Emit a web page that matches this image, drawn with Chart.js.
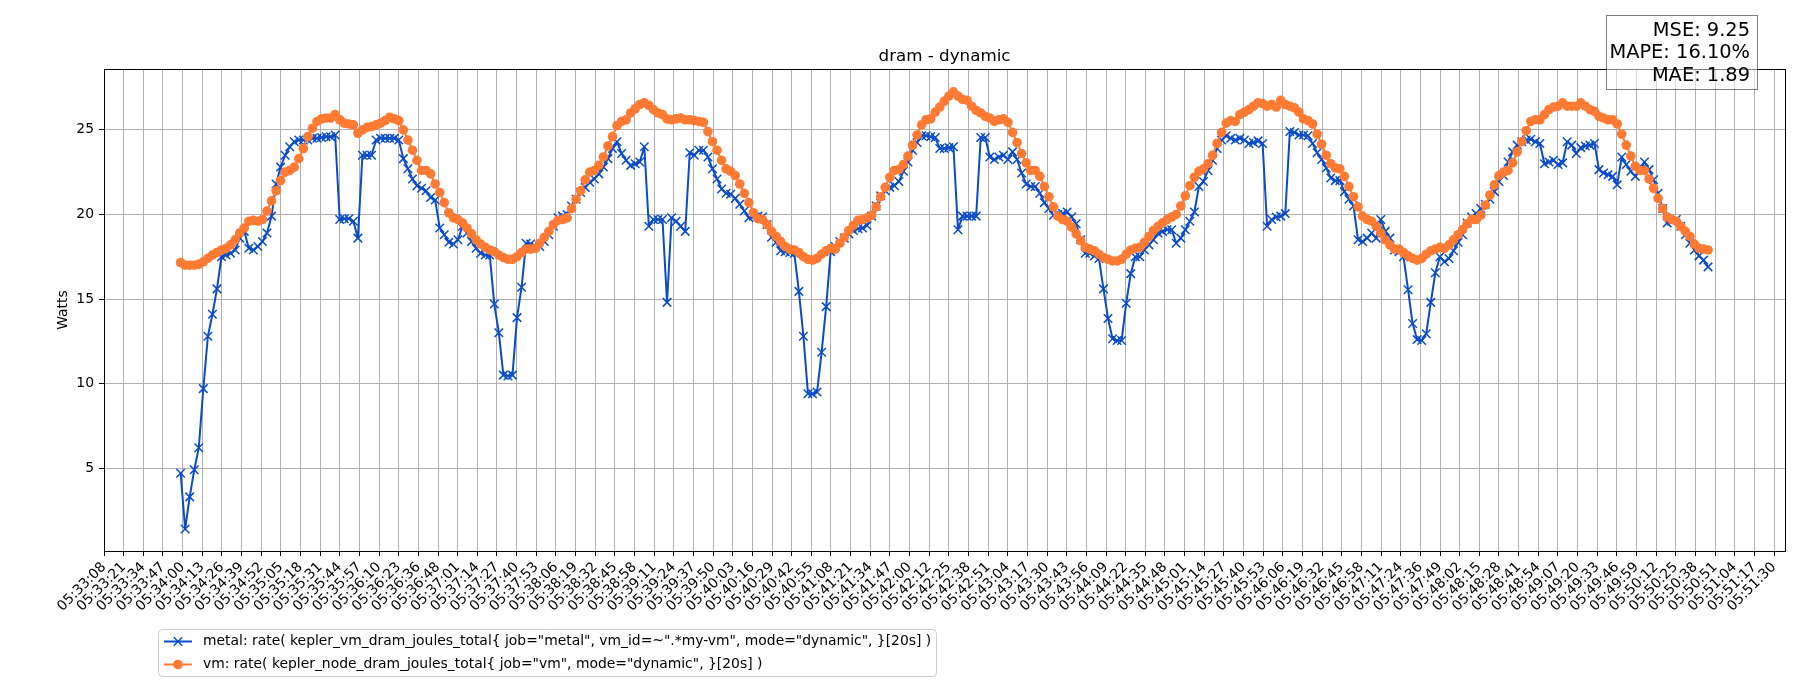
<!DOCTYPE html>
<html>
<head>
<meta charset="utf-8">
<script src="https://cdn.jsdelivr.net/npm/chart.js@4.4.1/dist/chart.umd.min.js"></script>
<style>
  html, body { margin: 0; padding: 0; background: #fff; }
  canvas { display: block; }
</style>
</head>
<body>
<canvas id="chart" width="1800" height="700"></canvas>
<script>
const chartTitle = 'dram - dynamic';
const yAxisLabel = 'Watts';
const seriesNames = [
    'metal: rate( kepler_vm_dram_joules_total{ job="metal", vm_id=~".*my-vm", mode="dynamic", }[20s] )',
    'vm: rate( kepler_node_dram_joules_total{ job="vm", mode="dynamic", }[20s] )'
];
const metricLines = ['MSE: 9.25', 'MAPE: 16.10%', 'MAE: 1.89'];

// samples every 3 s starting at 05:33:59
const sampleStart = '05:33:59';
const sampleStep = 3;

const metalValues = [
    4.7, 1.4, 3.3, 4.9, 6.2, 9.7, 12.8, 14.1, 15.6, 17.5,
    17.6, 17.7, 17.9, 18.6, 19.0, 18.0, 17.9, 18.1, 18.4, 18.9,
    19.9, 21.8, 22.8, 23.5, 24.0, 24.3, 24.4, 24.4, 24.4, 24.5,
    24.5, 24.55, 24.6, 24.6, 24.7, 19.7, 19.75, 19.75, 19.6, 18.6,
    23.5, 23.5, 23.5, 24.4, 24.5, 24.5, 24.5, 24.5, 24.4, 23.3,
    22.7, 22.1, 21.7, 21.55, 21.4, 21.0, 20.85, 19.2, 18.8, 18.35,
    18.25, 18.5, 19.3, 18.9, 18.4, 18.0, 17.7, 17.6, 17.6, 14.7,
    13.0, 10.5, 10.45, 10.5, 13.9, 15.7, 18.3, 18.25, 18.1, 18.1,
    18.4, 18.8, 19.3, 19.8, 19.9, 20.0, 20.5, 20.9, 21.3, 21.6,
    21.9, 22.1, 22.4, 22.8, 23.3, 23.9, 24.3, 23.6, 23.2, 22.9,
    23.0, 23.1, 24.0, 19.3, 19.7, 19.7, 19.7, 14.8, 19.8, 19.6,
    19.3, 19.0, 23.65, 23.5, 23.8, 23.8, 23.4, 22.7, 22.1, 21.5,
    21.25, 21.2, 20.95, 20.6, 20.2, 19.8, 19.9, 19.9, 19.85, 19.4,
    18.65, 18.35, 17.85, 17.8, 17.75, 17.7, 15.45, 12.8, 9.4, 9.4,
    9.5, 11.85, 14.55, 17.8, 18.1, 18.4, 18.6, 18.85, 19.05, 19.15,
    19.2, 19.35, 19.9, 20.5, 21.1, 21.4, 21.6, 21.7, 21.95, 22.55,
    23.1, 23.8, 24.25, 24.65, 24.65, 24.6, 24.55, 23.9, 23.9, 23.95,
    24.0, 19.1, 19.9, 19.9, 19.9, 19.9, 24.55, 24.55, 23.4, 23.25,
    23.4, 23.5, 23.25, 23.7, 23.25, 22.45, 21.8, 21.65, 21.65, 21.25,
    20.7, 20.35, 19.95, 20.0, 20.05, 20.15, 19.85, 19.45, 18.5, 17.7,
    17.7, 17.55, 17.4, 15.6, 13.85, 12.65, 12.55, 12.55, 14.75, 16.5,
    17.5, 17.5, 17.9, 18.2, 18.5, 18.9, 19.0, 19.1, 19.1, 18.3,
    18.6, 19.1, 19.6, 20.15, 21.65, 21.95, 22.6, 23.2, 23.9, 24.4,
    24.65, 24.5, 24.4, 24.5, 24.4, 24.2, 24.25, 24.35, 24.2, 19.3,
    19.7, 19.85, 19.9, 20.05, 24.9, 24.85, 24.7, 24.7, 24.65, 24.2,
    23.65, 23.25, 22.75, 22.15, 22.0, 22.0, 21.35, 20.9, 20.5, 18.5,
    18.4, 18.6, 18.9, 18.6, 19.7, 19.0, 18.6, 17.9, 17.8, 17.5,
    15.55, 13.55, 12.6, 12.55, 12.95, 14.8, 16.55, 17.5, 17.2, 17.4,
    17.85, 18.35, 18.8, 19.5, 19.85, 20.05, 20.35, 20.6, 20.9, 21.35,
    21.95, 22.3, 23.1, 23.7, 24.1, 24.3, 24.4, 24.45, 24.3, 24.2,
    23.0, 23.1, 23.2, 22.95, 23.05, 24.3, 24.1, 23.6, 23.95, 24.05,
    24.1, 24.2, 22.65, 22.45, 22.35, 22.25, 21.75, 23.4, 22.95, 22.55,
    22.25, 22.65, 23.1, 22.65, 22.05, 21.25, 20.35, 19.5, 19.6, 19.7,
    19.3, 18.8, 18.3, 17.9, 17.55, 17.3, 16.9
];

const vmValues = [
    17.15, 17.0, 17.0, 17.0, 17.05, 17.2, 17.4, 17.6, 17.75, 17.9,
    18.0, 18.2, 18.5, 18.9, 19.2, 19.6, 19.65, 19.6, 19.7, 20.2,
    20.8, 21.4, 22.0, 22.5, 22.6, 22.8, 23.3, 23.9, 24.6, 25.1,
    25.5, 25.65, 25.7, 25.7, 25.9, 25.6, 25.4, 25.35, 25.3, 24.8,
    25.0, 25.15, 25.2, 25.3, 25.4, 25.55, 25.75, 25.65, 25.55, 25.0,
    24.4, 23.8, 23.2, 22.6, 22.6, 22.4, 21.8, 21.3, 20.7, 20.1,
    19.8, 19.7, 19.5, 19.2, 18.85, 18.5, 18.25, 18.05, 17.9, 17.8,
    17.6, 17.45, 17.35, 17.35, 17.5, 17.75, 17.95, 17.95, 18.0, 18.3,
    18.65, 19.0, 19.4, 19.65, 19.7, 19.8, 20.35, 20.9, 21.4, 22.05,
    22.5, 22.6, 22.9, 23.4, 24.05, 24.6, 25.25, 25.5, 25.6, 26.0,
    26.25, 26.5, 26.6, 26.45, 26.2, 26.0, 25.9, 25.65, 25.6, 25.65,
    25.7, 25.6, 25.6, 25.55, 25.5, 25.45, 24.9, 24.3, 23.8, 23.2,
    22.7, 22.55, 22.3, 21.8, 21.25, 20.7, 20.1, 19.75, 19.7, 19.4,
    19.0, 18.7, 18.4, 18.1, 17.95, 17.9, 17.75, 17.5, 17.35, 17.3,
    17.4, 17.65, 17.85, 18.0, 17.95, 18.3, 18.65, 19.05, 19.35, 19.65,
    19.7, 19.8, 19.95, 20.45, 21.05, 21.6, 22.2, 22.6, 22.65, 22.95,
    23.45, 24.1, 24.7, 25.3, 25.6, 25.65, 26.05, 26.35, 26.7, 27.0,
    27.25, 27.0, 26.8, 26.75, 26.4, 26.15, 26.0, 25.8, 25.7, 25.5,
    25.6, 25.65, 25.45, 24.85, 24.25, 23.6, 23.05, 22.6, 22.6, 22.25,
    21.65, 21.05, 20.45, 19.9, 19.7, 19.6, 19.25, 18.85, 18.45, 18.05,
    17.95, 17.85, 17.65, 17.45, 17.35, 17.25, 17.25, 17.35, 17.65, 17.9,
    18.0, 18.05, 18.35, 18.7, 19.05, 19.3, 19.5, 19.7, 19.85, 20.0,
    20.5, 21.1, 21.7, 22.2, 22.55, 22.7, 23.0, 23.5, 24.2, 24.85,
    25.4, 25.55, 25.5, 25.9, 26.05, 26.2, 26.4, 26.6, 26.55, 26.4,
    26.5, 26.35, 26.75, 26.5, 26.4, 26.3, 26.05, 25.65, 25.55, 25.35,
    24.75, 24.15, 23.5, 23.0, 22.75, 22.7, 22.25, 21.65, 21.05, 20.45,
    19.9, 19.7, 19.6, 19.3, 18.9, 18.5, 18.2, 17.95, 17.95, 17.75,
    17.55, 17.4, 17.3, 17.4, 17.65, 17.85, 17.95, 18.05, 18.0, 18.2,
    18.5, 18.8, 19.1, 19.45, 19.7, 19.7, 19.95, 20.55, 21.15, 21.75,
    22.3, 22.5, 22.6, 23.05, 23.7, 24.3, 24.95, 25.5, 25.6, 25.6,
    25.9, 26.2, 26.35, 26.4, 26.6, 26.4, 26.4, 26.4, 26.6, 26.4,
    26.2, 26.1, 25.8, 25.7, 25.6, 25.6, 25.35, 24.75, 24.1, 23.45,
    22.85, 22.6, 22.6, 22.1, 21.55, 20.95, 20.35, 19.85, 19.7, 19.6,
    19.3, 19.0, 18.7, 18.25, 18.0, 17.95, 17.9
];

const xTickLabels = [
    '05:33:08', '05:33:21', '05:33:34', '05:33:47', '05:34:00', '05:34:13', '05:34:26', '05:34:39',
    '05:34:52', '05:35:05', '05:35:18', '05:35:31', '05:35:44', '05:35:57', '05:36:10', '05:36:23',
    '05:36:36', '05:36:48', '05:37:01', '05:37:14', '05:37:27', '05:37:40', '05:37:53', '05:38:06',
    '05:38:19', '05:38:32', '05:38:45', '05:38:58', '05:39:11', '05:39:24', '05:39:37', '05:39:50',
    '05:40:03', '05:40:16', '05:40:29', '05:40:42', '05:40:55', '05:41:08', '05:41:21', '05:41:34',
    '05:41:47', '05:42:00', '05:42:12', '05:42:25', '05:42:38', '05:42:51', '05:43:04', '05:43:17',
    '05:43:30', '05:43:43', '05:43:56', '05:44:09', '05:44:22', '05:44:35', '05:44:48', '05:45:01',
    '05:45:14', '05:45:27', '05:45:40', '05:45:53', '05:46:06', '05:46:19', '05:46:32', '05:46:45',
    '05:46:58', '05:47:11', '05:47:24', '05:47:36', '05:47:49', '05:48:02', '05:48:15', '05:48:28',
    '05:48:41', '05:48:54', '05:49:07', '05:49:20', '05:49:33', '05:49:46', '05:49:59', '05:50:12',
    '05:50:25', '05:50:38', '05:50:51', '05:51:04', '05:51:17', '05:51:30'
];
const yTicks = [5, 10, 15, 20, 25];

const blue = '#0a4cc8';
const orange = '#ff7a33';

function toSec(s) {
    const p = s.split(':').map(Number);
    return p[0] * 3600 + p[1] * 60 + p[2];
}

// tick labels are truncated seconds; the real ticks are evenly spaced
const firstTick = toSec(xTickLabels[0]) + 0.45;
const lastTick = toSec(xTickLabels[xTickLabels.length - 1]) + 0.5;
const tickStep = (lastTick - firstTick) / (xTickLabels.length - 1);
const xTickValues = xTickLabels.map((_, i) => firstTick + i * tickStep);
const xMin = firstTick;
const xMax = lastTick + 7.25;

const t0 = toSec(sampleStart);
const metalPoints = metalValues.map((v, i) => ({ x: t0 + i * sampleStep, y: v }));
const vmPoints = vmValues.map((v, i) => ({ x: t0 + i * sampleStep, y: v }));

Chart.defaults.font.family = "'DejaVu Sans', sans-serif";
Chart.defaults.color = '#000';

const decorations = {
    id: 'decorations',
    afterDraw(chart) {
        const ctx = chart.ctx;
        const a = chart.chartArea;
        ctx.save();

        // axes frame
        ctx.strokeStyle = '#000';
        ctx.lineWidth = 1;
        ctx.strokeRect(Math.round(a.left) + 0.5, Math.round(a.top) + 0.5,
            Math.round(a.right - a.left), Math.round(a.bottom - a.top));

        // title
        ctx.fillStyle = '#000';
        ctx.font = "16.7px 'DejaVu Sans'";
        ctx.textAlign = 'center';
        ctx.textBaseline = 'alphabetic';
        ctx.fillText(chartTitle, (a.left + a.right) / 2, 60.5);

        // y axis label
        ctx.save();
        ctx.translate(63, (a.top + a.bottom) / 2);
        ctx.rotate(-Math.PI / 2);
        ctx.font = "13.9px 'DejaVu Sans'";
        ctx.textBaseline = 'middle';
        ctx.fillText(yAxisLabel, 0, 0);
        ctx.restore();

        // legend below the axis
        const lx = 158.5, ly = 629.5, lw = 778, lh = 47;
        ctx.beginPath();
        ctx.roundRect(lx, ly, lw, lh, 4);
        ctx.fillStyle = 'rgba(255,255,255,0.8)';
        ctx.fill();
        ctx.strokeStyle = '#cccccc';
        ctx.lineWidth = 1;
        ctx.stroke();
        ctx.font = "13.9px 'DejaVu Sans'";
        ctx.textAlign = 'left';
        ctx.textBaseline = 'middle';
        const rows = [641.5, 664.5];
        const hx0 = 164, hx1 = 192, hm = 178;
        // metal entry
        ctx.strokeStyle = blue;
        ctx.lineWidth = 2;
        ctx.beginPath();
        ctx.moveTo(hx0, rows[0]);
        ctx.lineTo(hx1, rows[0]);
        ctx.stroke();
        ctx.lineWidth = 1.5;
        ctx.beginPath();
        ctx.moveTo(hm - 4.2, rows[0] - 4.2); ctx.lineTo(hm + 4.2, rows[0] + 4.2);
        ctx.moveTo(hm - 4.2, rows[0] + 4.2); ctx.lineTo(hm + 4.2, rows[0] - 4.2);
        ctx.stroke();
        // vm entry
        ctx.strokeStyle = orange;
        ctx.lineWidth = 2;
        ctx.beginPath();
        ctx.moveTo(hx0, rows[1]);
        ctx.lineTo(hx1, rows[1]);
        ctx.stroke();
        ctx.fillStyle = orange;
        ctx.beginPath();
        ctx.arc(hm, rows[1], 4.8, 0, Math.PI * 2);
        ctx.fill();
        ctx.fillStyle = '#000';
        ctx.fillText(seriesNames[0], 203, rows[0]);
        ctx.fillText(seriesNames[1], 203, rows[1]);

        // metrics box, top right
        ctx.fillStyle = 'rgba(255,255,255,0.5)';
        ctx.fillRect(1606, 15.5, 151, 74);
        ctx.strokeStyle = 'rgba(0,0,0,0.5)';
        ctx.lineWidth = 1;
        ctx.strokeRect(1606.5, 15.5, 151, 74);
        ctx.fillStyle = '#000';
        ctx.font = "19.4px 'DejaVu Sans'";
        ctx.textAlign = 'right';
        ctx.textBaseline = 'alphabetic';
        metricLines.forEach((t, i) => ctx.fillText(t, 1750, 36 + i * 22.4));

        ctx.restore();
    }
};

const ctx = document.getElementById('chart').getContext('2d');
const chart = new Chart(ctx, {
    type: 'line',
    data: {
        datasets: [{
            label: seriesNames[0],
            data: metalPoints,
            borderColor: blue,
            backgroundColor: blue,
            borderWidth: 2,
            borderJoinStyle: 'round',
            pointStyle: 'crossRot',
            pointRadius: 6,
            pointBorderWidth: 1.5,
            pointBorderColor: blue,
            tension: 0,
            order: 1
        }, {
            label: seriesNames[1],
            data: vmPoints,
            borderColor: orange,
            backgroundColor: orange,
            borderWidth: 2,
            borderJoinStyle: 'round',
            pointStyle: 'circle',
            pointRadius: 4.8,
            pointBorderWidth: 0,
            pointBackgroundColor: orange,
            tension: 0,
            order: 0
        }]
    },
    options: {
        responsive: false,
        animation: false,
        events: [],
        layout: { padding: { left: 0, right: 15, top: 69, bottom: 0 } },
        plugins: {
            legend: { display: false },
            title: { display: false },
            tooltip: { enabled: false }
        },
        scales: {
            x: {
                type: 'linear',
                min: xMin,
                max: xMax,
                afterBuildTicks: scale => {
                    scale.ticks = xTickValues.map(v => ({ value: v }));
                },
                afterFit: scale => { scale.height = 149; },
                ticks: {
                    autoSkip: false,
                    maxRotation: 45,
                    minRotation: 45,
                    padding: 3,
                    font: { size: 13.9 },
                    color: '#000',
                    callback: (value, index) => xTickLabels[index]
                },
                grid: { color: '#b0b0b0', lineWidth: 1, tickLength: 5, tickColor: '#000', tickWidth: 1 },
                border: { display: false }
            },
            y: {
                min: 0.1,
                max: 28.6,
                afterBuildTicks: scale => {
                    scale.ticks = yTicks.map(v => ({ value: v }));
                },
                afterFit: scale => { scale.width = 104; },
                ticks: {
                    padding: 5,
                    font: { size: 13.9 },
                    color: '#000'
                },
                grid: { color: '#b0b0b0', lineWidth: 1, tickLength: 5, tickColor: '#000', tickWidth: 1 },
                border: { display: false }
            }
        }
    },
    plugins: [decorations]
});
</script>
</body>
</html>
